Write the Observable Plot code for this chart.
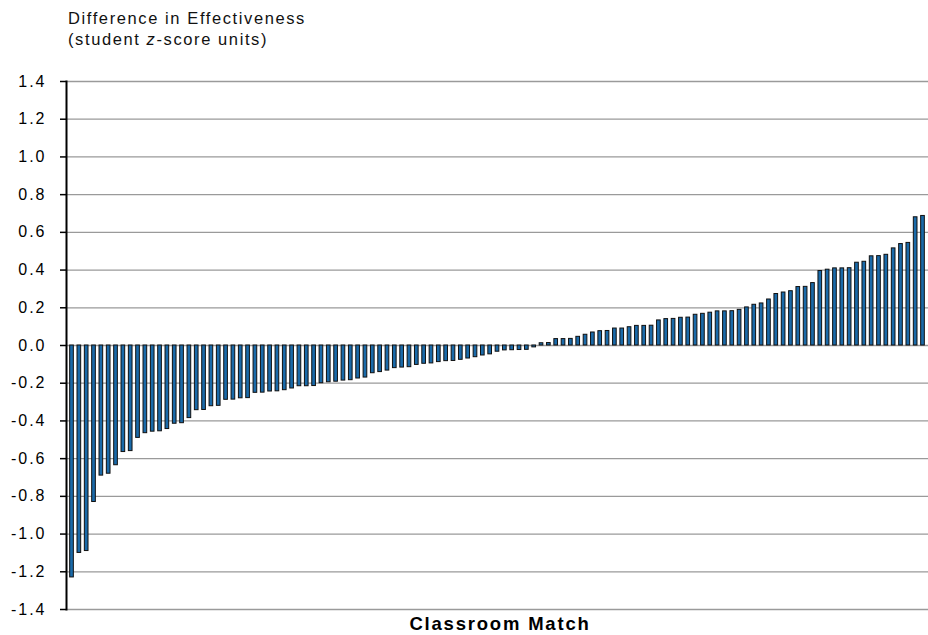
<!DOCTYPE html>
<html>
<head>
<meta charset="utf-8">
<script src="https://cdn.jsdelivr.net/npm/d3@7"></script>
<script src="https://cdn.jsdelivr.net/npm/@observablehq/plot@0.6"></script>
<style>
  html, body { margin: 0; padding: 0; background: #fff; }
  #wrap { position: relative; width: 928px; height: 635px; overflow: hidden; font-family: "Liberation Sans", Arial, sans-serif; }
  #title { position: absolute; left: 68px; top: 8px; font-size: 16.5px; line-height: 20.5px; color: #111; letter-spacing: 1.6px; }
  #xlabel { position: absolute; left: 500px; top: 613px; transform: translateX(-50%); font-size: 18.5px; font-weight: bold; color: #000; white-space: nowrap; letter-spacing: 1.8px; }
  #chart { position: absolute; left: 0; top: 0; }
  #chart svg g[aria-label="y-axis tick label"] text { letter-spacing: 2px; }
</style>
</head>
<body>
<div id="wrap">
  <div id="chart"></div>
  <div id="title">Difference in Effectiveness<br>(student <i>z</i>-score units)</div>
  <div id="xlabel">Classroom Match</div>
</div>
<script>
const differences = [
  -1.23, -1.10, -1.09, -0.83, -0.69, -0.68, -0.635, -0.565, -0.56, -0.49,
  -0.465, -0.457, -0.455, -0.443, -0.415, -0.412, -0.385, -0.343, -0.342, -0.322,
  -0.32, -0.288, -0.287, -0.28, -0.279, -0.251, -0.25, -0.244, -0.243, -0.237,
  -0.228, -0.216, -0.216, -0.215, -0.2, -0.195, -0.192, -0.186, -0.184, -0.175,
  -0.17, -0.147, -0.141, -0.133, -0.12, -0.117, -0.115, -0.103, -0.097, -0.095,
  -0.088, -0.083, -0.082, -0.076, -0.069, -0.062, -0.053, -0.047, -0.033, -0.026,
  -0.025, -0.024, -0.023, -0.01, 0.012, 0.013, 0.034, 0.034, 0.035, 0.046,
  0.057, 0.069, 0.076, 0.077, 0.09, 0.09, 0.097, 0.104, 0.104, 0.105,
  0.133, 0.14, 0.141, 0.147, 0.148, 0.163, 0.168, 0.174, 0.181, 0.181,
  0.182, 0.189, 0.202, 0.216, 0.223, 0.244, 0.273, 0.281, 0.288, 0.31,
  0.311, 0.331, 0.395, 0.402, 0.409, 0.409, 0.41, 0.439, 0.444, 0.473,
  0.474, 0.481, 0.515, 0.538, 0.544, 0.68, 0.687
];
const matches = differences.map((_, i) => i + 1);
const yTicks = [-1.4, -1.2, -1.0, -0.8, -0.6, -0.4, -0.2, 0, 0.2, 0.4, 0.6, 0.8, 1.0, 1.2, 1.4];

const data = matches.map((m, i) => ({match: m, diff: differences[i]}));

const chart = Plot.plot({
  width: 928,
  height: 635,
  marginLeft: 66,
  marginRight: 0,
  marginTop: 81,
  marginBottom: 26,
  style: {fontFamily: "'Liberation Sans', Arial, sans-serif", background: "#fff"},
  x: {domain: matches, padding: 0.5, axis: null},
  y: {domain: [-1.4, 1.4], axis: null},
  marks: [
    Plot.gridY(yTicks, {stroke: "#9a9a9a", strokeOpacity: 1, strokeWidth: 1.3}),
    Plot.barY(data, {x: "match", y: "diff", fill: "#1a6aa9", stroke: "#111", strokeWidth: 1}),
    Plot.axisY(yTicks, {
      label: null, tickSize: 6, tickPadding: 14, fontSize: 16, stroke: "#000", strokeWidth: 1.5,
      fill: "#000", tickFormat: d => d.toFixed(1)
    }),
    Plot.frame({anchor: "left", stroke: "#000", strokeWidth: 2})
  ]
});
document.getElementById("chart").appendChild(chart);
</script>
</body>
</html>
